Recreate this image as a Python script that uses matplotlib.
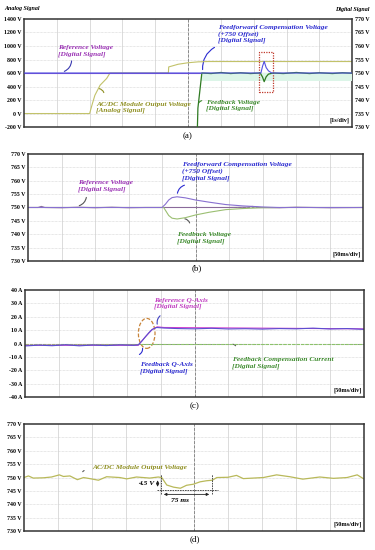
import matplotlib.pyplot as plt
import numpy as np
from matplotlib.patches import Rectangle, Ellipse, FancyArrowPatch

plt.rcParams['font.family'] = ['Liberation Serif', 'DejaVu Serif']

# ---- panel (a): 1 s/div, left axis analog [V], right axis digital [V]
a_left_ticks = [-200, 0, 200, 400, 600, 800, 1000, 1200, 1400]
a_right_ticks = [730, 735, 740, 745, 750, 755, 760, 765, 770]
ref_a_t = [0, 10]
ref_a_v = [600, 600]
acdc_a_t = [0, 2.0, 2.08, 2.16, 2.32, 2.52, 2.62, 4.4, 4.41, 4.7, 5.0, 5.3, 5.6, 10]
acdc_a_v = [0, 0, 140, 270, 420, 520, 600, 600, 690, 730, 752, 765, 770, 770]
ff_a_t = [0, 7.22, 7.27, 7.32, 7.38, 7.45, 7.55, 10]
ff_a_v = [750, 750, 752.5, 754.3, 752.0, 750.8, 750, 750]
fb_a_t = [0, 5.22, 5.3, 5.42, 5.7, 6.0, 6.3, 6.6, 6.9, 7.2, 7.27, 7.32, 7.38, 7.45,
          7.6, 7.9, 8.3, 8.7, 9.0, 9.4, 9.7, 10]
fb_a_v = [700, 700, 737, 750, 749.8, 750.2, 749.8, 750.1, 749.8, 750, 748.5, 746.8,
          748.6, 749.6, 750, 749.8, 750.2, 749.8, 750.1, 749.8, 750.1, 749.9]

# ---- panel (b): 50 ms/div
b_ticks = [730, 735, 740, 745, 750, 755, 760, 765, 770]
ref_b_t = [0, 0.3, 0.4, 0.5, 1.0, 1.5, 2.0, 2.5, 3.0, 3.5, 4.0, 5.0, 6.0, 6.5, 6.7, 6.9, 7.5, 8.0, 9.0, 10]
ref_b_v = [750, 750, 750.4, 750, 749.9, 750.1, 749.9, 750.1, 749.9, 750, 750, 750, 750,
           750.1, 750.4, 750, 749.9, 750.1, 749.9, 750]
ff_b_t = [0, 4.0, 4.1, 4.2, 4.3, 4.45, 4.7, 5.0, 5.4, 5.9, 6.4, 7.0, 7.5, 10]
ff_b_v = [750, 750, 751.2, 752.8, 753.7, 754.0, 753.6, 752.8, 752.0, 751.1, 750.6, 750.2, 750.0, 750]
fb_b_t = [0, 4.05, 4.12, 4.2, 4.3, 4.45, 4.7, 5.0, 5.4, 5.9, 6.4, 7.0, 7.6, 10]
fb_b_v = [750, 750, 748.6, 747.0, 746.0, 745.7, 746.2, 747.2, 748.2, 749.2, 749.6, 749.9, 750.0, 750]

# ---- panel (c): 50 ms/div, current [A]
c_ticks = [-40, -30, -20, -10, 0, 10, 20, 30, 40]
fbq_c_t = [0, 0.4, 0.8, 1.2, 1.6, 2.0, 2.4, 2.8, 3.2, 3.34, 3.45, 3.55, 3.65, 3.75, 3.88,
           4.1, 4.5, 5.0, 5.5, 6.0, 6.5, 7.0, 7.5, 8.0, 8.5, 9.0, 9.5, 10]
fbq_c_v = [-1.8, -1.2, -1.6, -0.9, -1.7, -1.1, -1.5, -1.0, -1.3, -1.0, 2.0, 5.0, 8.0, 10.5, 12.0,
           11.6, 11.2, 11.0, 11.4, 10.9, 11.1, 10.8, 11.2, 11.0, 11.5, 10.9, 11.2, 10.6]
refq_c_t = [0, 3.34, 3.55, 3.75, 3.9, 4.1, 10]
refq_c_v = [-1.3, -1.3, 5.0, 10.5, 12.5, 12.0, 11.0]
comp_c_t = [0, 10]
comp_c_v = [0, 0]

# ---- panel (d): 50 ms/div, AC/DC module output voltage
d_ticks = [730, 735, 740, 745, 750, 755, 760, 765, 770]
acdc_d_t = [0, 0.13, 0.27, 0.57, 0.81, 1.04, 1.16, 1.35, 1.57, 1.75, 1.89, 2.19, 2.43,
            2.82, 3.02, 3.31, 3.7, 3.95, 4.05, 4.2, 4.4, 4.6, 4.78, 4.98, 5.18, 5.37,
            5.54, 5.67, 6.0, 6.25, 6.45, 7.04, 7.43, 7.82, 8.2, 8.7, 9.1, 9.5, 9.8, 9.98]
acdc_d_v = [750, 750.6, 749.8, 749.9, 750.2, 751.0, 750.4, 750.6, 749.2, 750.0, 749.7,
            749.0, 750.3, 750.0, 749.5, 750.2, 749.8, 750.2, 750.0, 747.2, 746.4, 746.0,
            747.1, 747.5, 748.4, 748.8, 749.0, 750.0, 750.1, 750.8, 749.6, 750.0, 751.0,
            750.3, 749.4, 750.2, 749.7, 750.0, 751.0, 749.6]

PURPLE = '#9a32b4'
BLUE = '#2a2ad0'
OLIVE = '#8f8f22'
GREEN = '#3c8a2c'
FS = 5.3
TFS = 4.2

fig = plt.figure(figsize=(3.75, 5.5), dpi=100)


def frame(ax, ylo, yhi, ticks, fmt, mid):
    ax.set_xlim(0, 10)
    ax.set_ylim(ylo, yhi)
    ax.set_xticks([])
    ax.set_yticks(ticks)
    ax.set_yticklabels([fmt.format(t) for t in ticks], fontsize=TFS, fontweight='bold')
    ax.tick_params(axis='y', length=0, pad=2)
    for x in range(1, 10):
        ax.axvline(x, color='#d6d6d6', lw=0.6, zorder=0)
    for y in ticks[1:-1]:
        ax.axhline(y, color='#d0d0d0', lw=0.5, ls=(0, (1, 1)), zorder=0)
    ax.axvline(5, color='#8a8a8a', lw=0.7, ls=(0, (3, 1.5)), zorder=0)
    if mid is not None:
        ax.axhline(mid, color='#8a8a8a', lw=0.7, ls=(0, (3, 1.5)), zorder=0)
    for s in ax.spines.values():
        s.set_linewidth(1.1)
        s.set_color('#333333')


def label(ax, x, y, txt, color):
    ax.text(x, y, txt, color=color, fontsize=FS, fontstyle='italic', fontweight='bold',
            va='center', ha='left', linespacing=1.3)


def squiggle(ax, x0, y0, x1, y1, color, rad=0.4):
    ax.add_patch(FancyArrowPatch((x0, y0), (x1, y1), arrowstyle='-', color=color, lw=0.8,
                                 connectionstyle='arc3,rad=%s' % rad))


def divtext(ax, txt):
    ax.text(9.93, 0.06, txt, transform=ax.get_xaxis_transform(), ha='right', va='center',
            fontsize=TFS + 0.3, fontweight='bold', zorder=5,
            bbox=dict(facecolor='white', edgecolor='none', pad=0.5))


# ---------- (a)
ax = fig.add_axes([0.064, 0.769, 0.875, 0.1965])
frame(ax, -200, 1400, a_left_ticks, '{} V', None)
axr = ax.twinx()
axr.set_ylim(730, 770)
axr.set_yticks(a_right_ticks)
axr.set_yticklabels(['{} V'.format(t) for t in a_right_ticks], fontsize=TFS, fontweight='bold')
axr.tick_params(axis='y', length=0, pad=2)
axr.set_xlim(0, 10)
for s in axr.spines.values():
    s.set_visible(False)
axr.axhspan(747.2, 750, xmin=0.54, xmax=1, color='#dcf5e8', lw=0, zorder=0)
ax.plot(acdc_a_t, acdc_a_v, color='#c2c26a', lw=0.8)
axr.plot(fb_a_t, fb_a_v, color='#2f7a22', lw=0.9)
ax.plot(ref_a_t, ref_a_v, color='#7d4fd0', lw=0.8)
axr.plot(ff_a_t, ff_a_v, color='#5050e0', lw=0.8)
axr.add_patch(Rectangle((7.17, 743.1), 0.42, 14.8, fill=False, ec='#c0392b', lw=0.9, ls=(0, (1, 1))))
label(ax, 1.04, 925, 'Reference Voltage\n[Digital Signal]', PURPLE)
squiggle(ax, 1.45, 820, 1.15, 610, '#3a3ab0', rad=-0.4)
label(ax, 2.2, 90, 'AC/DC Module Output Voltage\n[Analog Signal]', OLIVE)
squiggle(ax, 2.45, 270, 2.2, 370, OLIVE, rad=0.5)
label(ax, 5.92, 1178, 'Feedforward Compensation Voltage\n(+750 Offset)\n[Digital Signal]', BLUE)
squiggle(ax, 5.88, 1000, 5.45, 610, BLUE, rad=0.35)
label(ax, 5.55, 118, 'Feedback Voltage\n[Digital Signal]', GREEN)
squiggle(ax, 5.5, 190, 5.3, 120, GREEN, rad=0.5)
axr.text(9.93, 0.06, '[1s/div]', transform=axr.get_xaxis_transform(), ha='right', va='center',
         fontsize=TFS + 0.3, fontweight='bold', zorder=5,
         bbox=dict(facecolor='white', edgecolor='none', pad=0.5))
fig.text(0.012, 0.985, 'Analog Signal', fontsize=4.3, fontstyle='italic', fontweight='bold', va='center')
fig.text(0.985, 0.982, 'Digital Signal', fontsize=4.3, fontstyle='italic', fontweight='bold',
         va='center', ha='right')
fig.text(0.5, 0.7527, '(a)', fontsize=6.5, ha='center', va='center')

# ---------- (b)
ax = fig.add_axes([0.0747, 0.5255, 0.8933, 0.1945])
frame(ax, 730, 770, b_ticks, '{} V', 750)
ax.plot(ref_b_t, ref_b_v, color='#8a6a9a', lw=0.8)
ax.plot(fb_b_t, fb_b_v, color='#9bbf72', lw=0.8)
ax.plot(ff_b_t, ff_b_v, color='#8870d0', lw=0.8)
label(ax, 1.5, 758.1, 'Reference Voltage\n[Digital Signal]', PURPLE)
squiggle(ax, 1.75, 754.8, 1.45, 750.4, '#555555', rad=-0.4)
label(ax, 4.59, 763.6, 'Feedforward Compensation Voltage\n(+750 Offset)\n[Digital Signal]', BLUE)
squiggle(ax, 4.75, 758.6, 4.45, 754.3, BLUE, rad=0.4)
label(ax, 4.44, 738.5, 'Feedback Voltage\n[Digital Signal]', GREEN)
squiggle(ax, 4.84, 743.2, 4.6, 745.8, '#555555', rad=0.5)
divtext(ax, '[50ms/div]')
fig.text(0.525, 0.5127, '(b)', fontsize=6.5, ha='center', va='center')

# ---------- (c)
ax = fig.add_axes([0.0667, 0.278, 0.904, 0.1947])
frame(ax, -40, 40, c_ticks, '{} A', 0)
ax.plot(comp_c_t, comp_c_v, color='#8cc46a', lw=0.8, ls=(0, (3, 1)))
ax.plot(refq_c_t, refq_c_v, color='#d040d0', lw=0.8)
ax.plot(fbq_c_t, fbq_c_v, color='#5a4fd0', lw=0.8)
ax.add_patch(Ellipse((3.59, 7.6), 0.49, 22.4, fill=False, ec='#c8843a', lw=0.9, ls=(0, (3, 1.5))))
label(ax, 3.81, 30.0, 'Reference Q-Axis\n[Digital Signal]', '#c03cc0')
squiggle(ax, 4.05, 22, 3.92, 12.5, '#4040c0', rad=0.4)
label(ax, 3.39, -18.3, 'Feedback Q-Axis\n[Digital Signal]', BLUE)
squiggle(ax, 3.3, -9, 3.45, -1.5, BLUE, rad=0.5)
label(ax, 6.1, -14.5, 'Feedback Compensation Current\n[Digital Signal]', GREEN)
squiggle(ax, 6.25, -3.5, 6.05, -0.8, '#555555', rad=0.5)
divtext(ax, '[50ms/div]')
fig.text(0.52, 0.262, '(c)', fontsize=6.5, ha='center', va='center')

# ---------- (d)
ax = fig.add_axes([0.064, 0.0345, 0.9067, 0.1945])
frame(ax, 730, 770, d_ticks, '{} V', None)
ax.plot(acdc_d_t, acdc_d_v, color='#b9b95a', lw=0.9)
label(ax, 2.0, 753.8, 'AC/DC Module Output Voltage', OLIVE)
squiggle(ax, 1.85, 752.7, 1.7, 751.2, '#555555', rad=0.5)
ax.plot([4.03, 4.03], [744, 751.4], color='#333333', lw=0.6, ls=(0, (2, 1)))
ax.plot([5.53, 5.53], [744, 751.4], color='#333333', lw=0.6, ls=(0, (2, 1)))
ax.plot([3.9, 5.72], [745.5, 745.5], color='#333333', lw=0.6, ls=(0, (2, 1)))
ax.add_patch(FancyArrowPatch((3.93, 750), (3.93, 745.5), arrowstyle='<|-|>', color='#222222',
                             lw=0.6, mutation_scale=4))
ax.add_patch(FancyArrowPatch((4.03, 743.7), (5.53, 743.7), arrowstyle='<|-|>', color='#222222',
                             lw=0.6, mutation_scale=4))
ax.text(3.84, 747.6, '4.5 V', fontsize=FS, fontstyle='italic', fontweight='bold', ha='right', va='center')
ax.text(4.6, 741.4, '75 ms', fontsize=FS, fontstyle='italic', fontweight='bold', ha='center', va='center')
divtext(ax, '[50ms/div]')
fig.text(0.52, 0.02, '(d)', fontsize=6.5, ha='center', va='center')

fig.savefig('out.png', dpi=100)
